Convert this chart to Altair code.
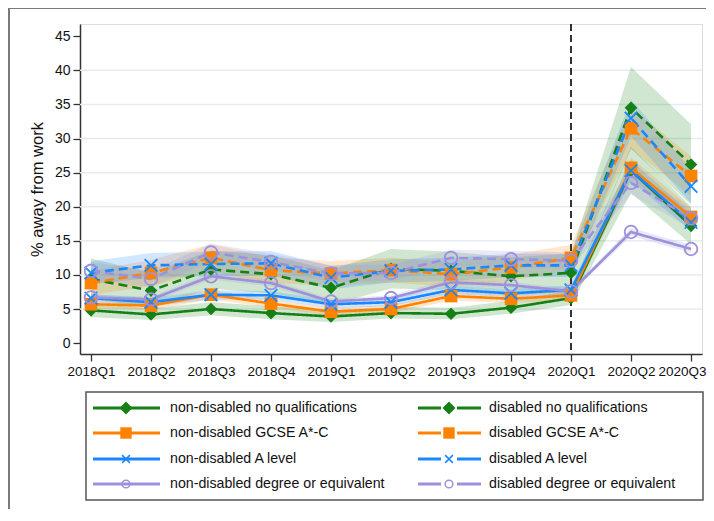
import altair as alt
import pandas as pd

quarters = ["2018Q1", "2018Q2", "2018Q3", "2018Q4", "2019Q1", "2019Q2",
            "2019Q3", "2019Q4", "2020Q1", "2020Q2", "2020Q3"]

names = [
    "non-disabled no qualifications", "disabled no qualifications",
    "non-disabled GCSE A*-C", "disabled GCSE A*-C",
    "non-disabled A level", "disabled A level",
    "non-disabled degree or equivalent", "disabled degree or equivalent",
]

# estimates (%)
nd_noqual = [4.8, 4.2, 5.0, 4.4, 3.9, 4.4, 4.3, 5.2, 6.6, 25.3, 17.2]
d_noqual = [9.4, 7.7, 10.8, 10.1, 8.1, 10.9, 10.6, 9.8, 10.3, 34.5, 26.2]
nd_gcse = [5.7, 5.5, 7.1, 5.8, 4.6, 5.0, 6.9, 6.5, 7.0, 25.7, 18.5]
d_gcse = [8.8, 10.3, 12.5, 10.7, 10.2, 10.7, 10.1, 11.1, 12.5, 31.5, 24.5]
nd_alevel = [6.6, 6.0, 7.1, 7.0, 5.7, 6.0, 7.8, 7.3, 7.8, 25.3, 17.7]
d_alevel = [10.3, 11.4, 11.6, 11.7, 9.6, 10.6, 10.8, 11.4, 11.4, 33.0, 23.0]
nd_degree = [6.7, 6.4, 9.8, 8.8, 6.1, 6.6, 8.9, 8.5, 7.6, 16.3, 13.8]
d_degree = [10.6, 9.4, 13.3, 11.9, 10.2, 10.3, 12.5, 12.3, 12.1, 23.5, 18.3]

# confidence bands
nd_noqual_lo = [3.8, 3.4, 4.1, 3.5, 3.1, 3.6, 3.5, 4.3, 5.6, 22.0, 14.5]
nd_noqual_hi = [5.9, 5.1, 6.0, 5.4, 4.8, 5.3, 5.2, 6.2, 7.7, 28.8, 20.0]
d_noqual_lo = [6.5, 5.2, 8.0, 7.3, 5.6, 8.0, 7.8, 7.0, 7.5, 28.5, 20.3]
d_noqual_hi = [12.4, 10.3, 13.6, 12.9, 10.7, 13.8, 13.4, 12.6, 13.1, 40.5, 32.1]
nd_gcse_lo = [5.1, 4.9, 6.4, 5.2, 4.0, 4.4, 6.2, 5.9, 6.3, 24.2, 17.2]
nd_gcse_hi = [6.3, 6.1, 7.8, 6.4, 5.2, 5.6, 7.6, 7.1, 7.7, 27.2, 19.8]
d_gcse_lo = [7.0, 8.4, 10.5, 8.8, 8.4, 8.9, 8.3, 9.2, 10.6, 28.5, 21.6]
d_gcse_hi = [10.6, 12.2, 14.5, 12.6, 12.0, 12.5, 11.9, 13.0, 14.4, 34.5, 27.4]
nd_alevel_lo = [6.0, 5.4, 6.4, 6.4, 5.1, 5.4, 7.2, 6.7, 7.1, 23.8, 16.4]
nd_alevel_hi = [7.2, 6.6, 7.8, 7.6, 6.3, 6.6, 8.4, 7.9, 8.5, 26.8, 19.0]
d_alevel_lo = [8.6, 9.6, 9.8, 9.9, 7.9, 8.9, 9.1, 9.7, 9.7, 30.3, 20.5]
d_alevel_hi = [12.0, 13.2, 13.4, 13.5, 11.3, 12.3, 12.5, 13.1, 13.1, 35.7, 25.5]
nd_degree_lo = [6.3, 6.0, 9.3, 8.3, 5.7, 6.2, 8.4, 8.0, 7.2, 15.7, 13.2]
nd_degree_hi = [7.1, 6.8, 10.3, 9.3, 6.5, 7.0, 9.4, 9.0, 8.0, 16.9, 14.4]
d_degree_lo = [9.3, 8.2, 12.0, 10.7, 9.0, 9.1, 11.3, 11.1, 10.9, 21.8, 16.8]
d_degree_hi = [11.9, 10.6, 14.6, 13.1, 11.4, 11.5, 13.7, 13.5, 13.3, 25.2, 19.8]

y_ticks = [0, 5, 10, 15, 20, 25, 30, 35, 40, 45]
grid_vals = [5, 10, 15, 20, 25, 30, 35, 40]

series = [
    (nd_noqual, nd_noqual_lo, nd_noqual_hi),
    (d_noqual, d_noqual_lo, d_noqual_hi),
    (nd_gcse, nd_gcse_lo, nd_gcse_hi),
    (d_gcse, d_gcse_lo, d_gcse_hi),
    (nd_alevel, nd_alevel_lo, nd_alevel_hi),
    (d_alevel, d_alevel_lo, d_alevel_hi),
    (nd_degree, nd_degree_lo, nd_degree_hi),
    (d_degree, d_degree_lo, d_degree_hi),
]

GREEN, ORANGE, BLUE, PURPLE = "#168016", "#ff8200", "#1a86ff", "#9c91db"
colors = [GREEN, GREEN, ORANGE, ORANGE, BLUE, BLUE, PURPLE, PURPLE]
XPATH = "M-1,-1L1,1M-1,1L1,-1"
shapes = ["diamond", "diamond", "square", "square", XPATH, XPATH, "circle", "circle"]
dashes = [[1, 0], [9, 5]] * 4
sizes = [160, 160, 120, 120, 100, 100, 95, 95]

rows = []
for n, (v, lo, hi) in zip(names, series):
    for q, a, b, c in zip(quarters, v, lo, hi):
        rows.append({"name": n, "q": q, "v": a, "lo": b, "hi": c})
df = pd.DataFrame(rows)

FONT = "Liberation Sans"
xaxis = alt.Axis(title=None, labelAngle=0, labelFontSize=13.5, labelFont=FONT,
                 labelColor="#111", tickSize=7, tickColor="#333", tickWidth=1.3,
                 domainColor="#333", domainWidth=1.5, labelPadding=3, grid=False,
                 labelOffset={"condition": {"test": "datum.value == '2020Q3'", "value": -9},
                              "value": 0})
xs = alt.X("q:O", sort=quarters,
           scale=alt.Scale(type="point", domain=quarters, padding=0.183), axis=xaxis)
yscale = alt.Scale(domain=[-1.6, 46.8], nice=False, zero=False)
yaxis = alt.Axis(values=y_ticks, title="% away from work", titleFontSize=16.5,
                 titleFont=FONT, titleFontWeight="normal", titleColor="#111",
                 titlePadding=9, labelFontSize=14, labelFont=FONT,
                 labelColor="#111", tickSize=7, tickColor="#333", tickWidth=1.3,
                 domainColor="#333", domainWidth=1.5, grid=False, labelPadding=3,
                 labelOverlap=False)
cscale = alt.Scale(domain=names, range=colors)
shscale = alt.Scale(domain=names, range=shapes)
szscale = alt.Scale(domain=names, range=sizes)

base = alt.Chart(df)

grid = alt.Chart(pd.DataFrame({"g": grid_vals})).mark_rule(
    color="#e4ecf0", strokeWidth=1.5).encode(y=alt.Y("g:Q", scale=yscale, axis=yaxis))

bands = base.mark_area(opacity=0.2).encode(
    x=xs,
    y=alt.Y("lo:Q", scale=yscale, stack=None, axis=yaxis),
    y2="hi:Q",
    color=alt.Color("name:N", scale=cscale, legend=None),
    detail="name:N",
)

lines = base.mark_line(strokeWidth=2.6).encode(
    x=xs, y=alt.Y("v:Q", scale=yscale, axis=yaxis),
    color=alt.Color("name:N", scale=cscale, legend=None),
    strokeDash=alt.StrokeDash("name:N", scale=alt.Scale(domain=names, range=dashes), legend=None),
    detail="name:N",
)

pts_filled = base.transform_filter(
    alt.FieldOneOfPredicate(field="name", oneOf=names[:4])
).mark_point(filled=True, opacity=1).encode(
    x=xs, y=alt.Y("v:Q", scale=yscale, axis=yaxis),
    color=alt.Color("name:N", scale=cscale, legend=None),
    shape=alt.Shape("name:N", scale=shscale, legend=None),
    size=alt.Size("name:N", scale=szscale, legend=None),
)

pts_hollow = base.transform_filter(
    alt.FieldOneOfPredicate(field="name", oneOf=names[4:])
).mark_point(filled=False, opacity=1, strokeWidth=1.8).encode(
    x=xs, y=alt.Y("v:Q", scale=yscale, axis=yaxis),
    color=alt.Color("name:N", scale=cscale, legend=None),
    shape=alt.Shape("name:N", scale=shscale, legend=None),
    size=alt.Size("name:N", scale=szscale, legend=None),
)

vline = alt.Chart(pd.DataFrame({"q": ["2020Q1"]})).mark_rule(
    color="#333", strokeWidth=2, strokeDash=[7, 4]).encode(
    x=xs, y=alt.value(0), y2=alt.value(330))

# outer frame
frame = [
    alt.Chart(pd.DataFrame({"a": [0]})).mark_rule(color="#7a7a7a", strokeWidth=2).encode(
        x=alt.value(-71), y=alt.value(-16), y2=alt.value(500)),
    alt.Chart(pd.DataFrame({"a": [0]})).mark_rule(color="#7a7a7a", strokeWidth=2).encode(
        x=alt.value(-71), x2=alt.value(640), y=alt.value(-16)),
]

# manual legend
legend_layers = [
    alt.Chart(pd.DataFrame({"a": [0]})).mark_rect(
        fill="white", stroke="#555", strokeWidth=1.5).encode(
        x=alt.value(6), x2=alt.value(623), y=alt.value(368), y2=alt.value(476))
]
row_y = [384, 409, 435, 460]
leg_sizes = [170, 170, 130, 130, 60, 60, 60, 60]
for i, n in enumerate(names):
    r, c = i // 2, i % 2
    yy = row_y[r]
    one = alt.Chart(pd.DataFrame({"name": [n]}))
    col = colors[i]
    if c == 0:
        lx1, lx2, mx, tx = 13, 80, 46, 90
        legend_layers.append(one.mark_rule(color=col, strokeWidth=3).encode(
            x=alt.value(lx1), x2=alt.value(lx2), y=alt.value(yy)))
    else:
        lx1, lx2, mx, tx = 338, 401, 369, 409
        legend_layers.append(one.mark_rule(color=col, strokeWidth=3).encode(
            x=alt.value(lx1), x2=alt.value(mx - 8), y=alt.value(yy)))
        legend_layers.append(one.mark_rule(color=col, strokeWidth=3).encode(
            x=alt.value(mx + 8), x2=alt.value(lx2), y=alt.value(yy)))
    legend_layers.append(one.mark_point(
        filled=i < 4, opacity=1, shape=shapes[i], size=leg_sizes[i],
        strokeWidth=1.5).encode(
        x=alt.value(mx), y=alt.value(yy), color=alt.value(col)))
    legend_layers.append(one.mark_text(
        align="left", baseline="middle", fontSize=14.2, font=FONT, color="#111").encode(
        x=alt.value(tx), y=alt.value(yy), text="name:N"))

chart = alt.layer(
    *frame, grid, bands, vline, lines, pts_filled, pts_hollow, *legend_layers
).properties(
    width=622, height=330,
    padding={"left": 72, "top": 16, "right": 4, "bottom": 155},
    autosize=alt.AutoSizeParams(type="none"),
).configure_view(stroke=None).configure(background="white")

chart.save("out.html", embed_options={"renderer": "svg", "actions": False})
